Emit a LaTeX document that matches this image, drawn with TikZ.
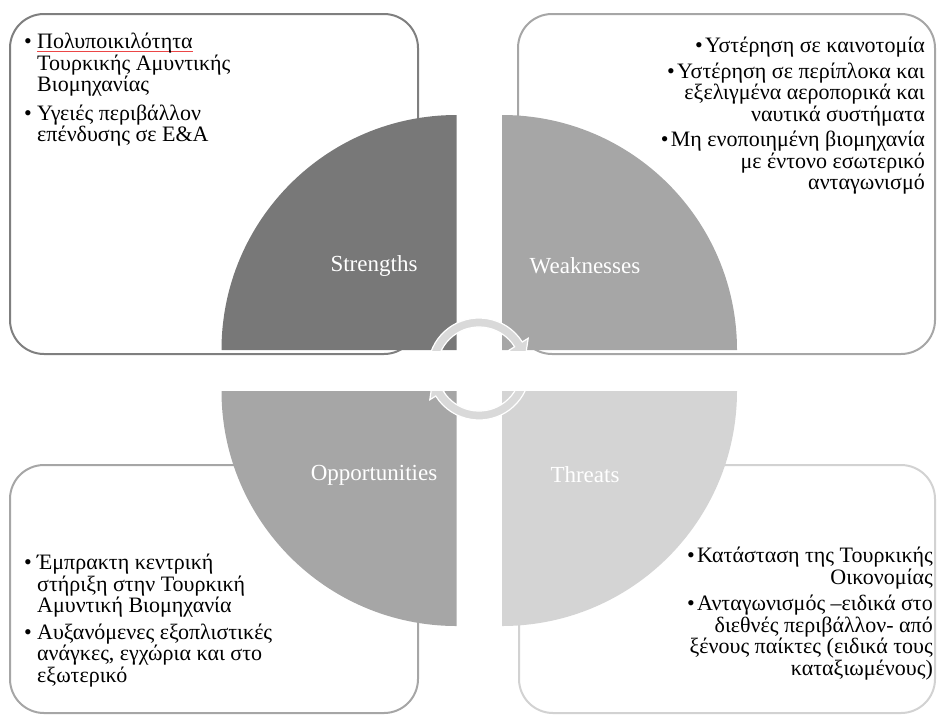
\documentclass[tikz,border=0pt]{standalone}
\usepackage{fontspec}
\setmainfont{Liberation Serif}
\usepackage{xcolor}
\definecolor{darkquad}{RGB}{120,120,120}
\definecolor{midquad}{RGB}{166,166,166}
\definecolor{lightquad}{RGB}{212,212,212}
\definecolor{darkline}{RGB}{127,127,127}
\definecolor{lightline}{RGB}{210,210,210}
\definecolor{cyclegray}{RGB}{217,217,217}
\definecolor{spellred}{RGB}{235,70,70}
\newcommand{\itemfont}{\fontsize{22}{21.5}\selectfont}
\newcommand{\labelfont}{\fontsize{23}{24}\selectfont}
\newcommand{\bul}{\makebox[13pt][l]{•}}
\newcommand{\rbul}{\makebox[10pt][l]{•}}
\newcommand{\hang}{\hspace*{13pt}}
\newcommand{\spellmark}[1]{\sbox0{#1}\rlap{\color{spellred}\rule[-3.5pt]{\wd0}{0.8pt}}\usebox0}
\tikzset{
    swotbox/.style={line width=2pt, rounded corners=34pt},
    quadlabel/.style={text=white, font=\labelfont, inner sep=0pt},
    leftlist/.style={anchor=north west, align=left, inner sep=0pt, font=\itemfont},
    rightlist/.style={anchor=north east, align=right, inner sep=0pt, font=\itemfont},
    cyclearrow/.style={fill=cyclegray, draw=white, line width=1.2pt}
}

\begin{document}
\begin{tikzpicture}[x=1pt, y=1pt]
                \useasboundingbox (0,0) rectangle (937,-721);

                % frames behind the circle
                \draw[swotbox, darkline] (10,-14) rectangle (418,-354);
                \draw[swotbox, midquad] (518,-14) rectangle (935,-354);
                \draw[swotbox, midquad] (10,-465) rectangle (418,-713);
                \draw[swotbox, lightline] (519,-465) rectangle (935,-713);

                % the four quarters
                \fill[darkquad] (456.5,-350) -- ++(-235,0) arc[start angle=180, end angle=90, radius=235] -- cycle;
                \fill[midquad] (502,-350) -- ++(0,235) arc[start angle=90, end angle=0, radius=235] -- cycle;
                \fill[midquad] (456.5,-391) -- ++(-235,0) arc[start angle=180, end angle=270, radius=235] -- cycle;
                \fill[lightquad] (502,-391) -- ++(235,0) arc[start angle=0, end angle=-90, radius=235] -- cycle;

                \node[quadlabel] (strengths) at (374,-266) {Strengths};
                \node[quadlabel] (weaknesses) at (585,-266) {Weaknesses};
                \node[quadlabel] (opportunities) at (374,-475) {Opportunities};
                \node[quadlabel] (threats) at (585,-475) {Threats};

                % cycle arrows
                \begin{scope}[shift={(479,-369)}]
                    \clip (-70,19) rectangle (70,70);
                    \filldraw[cyclearrow] (172:51) arc[start angle=172, end angle=32, radius=51]
                        -- (32:58) -- (10:46.5) -- (32:35) -- (32:42)
                        arc[start angle=32, end angle=172, radius=42] -- cycle;
                \end{scope}
                \begin{scope}[shift={(479,-369)}]
                    \clip (-70,-22) rectangle (70,-70);
                    \filldraw[cyclearrow] (-8:51) arc[start angle=-8, end angle=-148, radius=51]
                        -- (-148:58) -- (-170:46.5) -- (-148:35) -- (-148:42)
                        arc[start angle=-148, end angle=-8, radius=42] -- cycle;
                \end{scope}

                \node[leftlist] (strlist) at (24,-33) {%
                    \bul\spellmark{Πολυποικιλότητα}\\
                    \hang Τουρκικής Αμυντικής\\
                    \hang Βιομηχανίας\\[7pt]
                    \bul Υγειές περιβάλλον\\
                    \hang επένδυσης σε Ε\&Α};
                \node[rightlist] (weaklist) at (925,-37) {%
                    \rbul Υστέρηση σε καινοτομία\\[4pt]
                    \rbul Υστέρηση σε περίπλοκα και\\
                    εξελιγμένα αεροπορικά και\\
                    ναυτικά συστήματα\\[4pt]
                    \rbul Μη ενοποιημένη βιομηχανία\\
                    με έντονο εσωτερικό\\
                    ανταγωνισμό};
                \node[leftlist] (opplist) at (24,-554) {%
                    \bul Έμπρακτη κεντρική\\
                    \hang στήριξη στην Τουρκική\\
                    \hang Αμυντική Βιομηχανία\\[5pt]
                    \bul Αυξανόμενες εξοπλιστικές\\
                    \hang ανάγκες, εγχώρια και στο\\
                    \hang εξωτερικό};
                \node[rightlist] (thrlist) at (933,-547) {%
                    \rbul Κατάσταση της Τουρκικής\\
                    Οικονομίας\\[5pt]
                    \rbul Ανταγωνισμός –ειδικά στο\\
                    διεθνές περιβάλλον- από\\
                    ξένους παίκτες (ειδικά τους\\
                    καταξιωμένους)};

\end{tikzpicture}
\end{document}
